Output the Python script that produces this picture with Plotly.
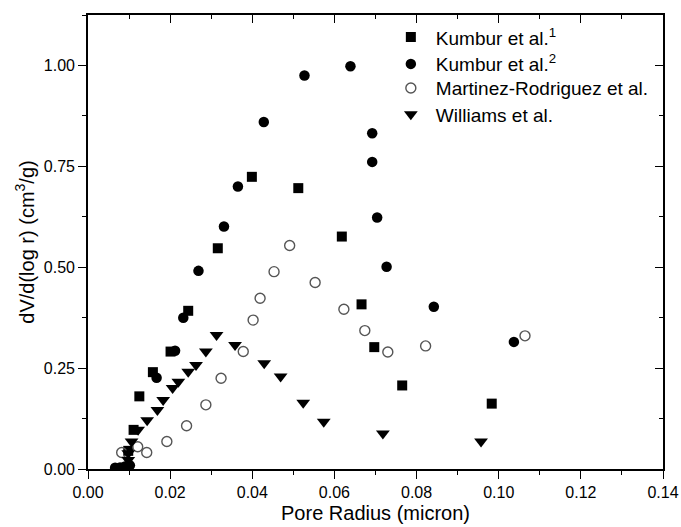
import plotly.graph_objects as go

# Kumbur et al. (1) - filled squares
k1_r = [0.0098, 0.0111, 0.0125, 0.0158, 0.0201, 0.0244, 0.0316, 0.0399, 0.0512,
        0.0618, 0.0666, 0.0697, 0.0765, 0.0983]
k1_v = [0.045, 0.097, 0.180, 0.240, 0.291, 0.392, 0.547, 0.724, 0.696,
        0.576, 0.408, 0.302, 0.207, 0.162]

# Kumbur et al. (2) - filled circles
k2_r = [0.0066, 0.0078, 0.0090, 0.0102, 0.0167, 0.0212, 0.0232, 0.0269, 0.0331,
        0.0365, 0.0428, 0.0527, 0.0639, 0.0692, 0.0692, 0.0704, 0.0727, 0.0842, 0.1037]
k2_v = [0.003, 0.004, 0.006, 0.009, 0.226, 0.293, 0.375, 0.491, 0.601,
        0.700, 0.860, 0.975, 0.998, 0.832, 0.761, 0.623, 0.501, 0.402, 0.315]

# Martinez-Rodriguez et al. - open circles
mr_r = [0.0082, 0.0121, 0.0143, 0.0192, 0.0240, 0.0287, 0.0324, 0.0378, 0.0402,
        0.0419, 0.0453, 0.0491, 0.0553, 0.0623, 0.0674, 0.0730, 0.0822, 0.1064]
mr_v = [0.041, 0.055, 0.041, 0.068, 0.107, 0.159, 0.225, 0.291, 0.369,
        0.423, 0.489, 0.554, 0.462, 0.396, 0.343, 0.290, 0.305, 0.330]

# Williams et al. - filled down triangles
w_r = [0.0098, 0.0098, 0.0106, 0.0122, 0.0144, 0.0169, 0.0183, 0.0206, 0.0220, 0.0244,
       0.0263, 0.0287, 0.0313, 0.0358, 0.0429, 0.0469, 0.0524, 0.0574, 0.0718, 0.0957]
w_v = [0.022, 0.039, 0.068, 0.097, 0.121, 0.146, 0.171, 0.201, 0.216, 0.241,
       0.258, 0.291, 0.332, 0.307, 0.262, 0.229, 0.164, 0.117, 0.088, 0.068]

x_ticks = [0.00, 0.02, 0.04, 0.06, 0.08, 0.10, 0.12, 0.14]
y_ticks = [0.00, 0.25, 0.50, 0.75, 1.00]

FONT = "Liberation Sans, Arial, sans-serif"

fig = go.Figure()
fig.add_trace(go.Scatter(
    x=k1_r, y=k1_v, mode="markers", name="Kumbur et al.<sup>1</sup>", legend="legend",
    marker=dict(symbol="square", size=10, color="black")))
fig.add_trace(go.Scatter(
    x=k2_r, y=k2_v, mode="markers", name="Kumbur et al.<sup>2</sup>", legend="legend2",
    marker=dict(symbol="circle", size=10.5, color="black")))
fig.add_trace(go.Scatter(
    x=mr_r, y=mr_v, mode="markers", name="Martinez-Rodriguez et al.", legend="legend3",
    marker=dict(symbol="circle-open", size=10, color="#555555", line=dict(width=1.4))))
fig.add_trace(go.Scatter(
    x=w_r, y=w_v, mode="markers", name="Williams et al.", legend="legend4",
    marker=dict(symbol="triangle-down", size=12, color="black")))

# empty trace so the mirrored top/right axes get drawn
fig.add_trace(go.Scatter(x=[], y=[], xaxis="x2", yaxis="y2", showlegend=False,
                         hoverinfo="skip"))

axis_common = dict(showline=True, linecolor="black", linewidth=1.6,
                   showgrid=False, zeroline=False, automargin=False)


def legend_box(ypos):
    # one legend per series so the rows sit at fixed heights
    return dict(x=0.518, y=ypos, xanchor="left", yanchor="middle", itemwidth=40,
                bgcolor="rgba(0,0,0,0)", borderwidth=0,
                font=dict(family=FONT, size=19))


fig.update_layout(
    width=681, height=527,
    margin=dict(l=88, r=18, t=15, b=58),
    paper_bgcolor="white", plot_bgcolor="white",
    font=dict(family=FONT, color="black", size=16),
    xaxis=dict(
        range=[0, 0.14], tickvals=x_ticks, tickformat=".2f",
        ticks="outside", ticklen=8, tickwidth=1.3, tickcolor="black",
        minor=dict(ticks="outside", ticklen=4, tickwidth=1.3, dtick=0.01, tickcolor="black"),
        title=dict(text="Pore Radius (micron)", font=dict(size=20), standoff=6),
        tickfont=dict(size=16), **axis_common),
    yaxis=dict(
        range=[0, 1.125], tickvals=y_ticks, tickformat=".2f",
        ticks="outside", ticklen=8, tickwidth=1.3, tickcolor="black",
        minor=dict(ticks="outside", ticklen=4, tickwidth=1.3, dtick=0.125, tickcolor="black"),
        title=dict(text="dV/d(log r) (cm<sup>3</sup>/g)", font=dict(size=20), standoff=4),
        tickfont=dict(size=16), **axis_common),
    xaxis2=dict(
        overlaying="x", side="top", range=[0, 0.14], tickvals=x_ticks,
        showticklabels=False, ticks="inside", ticklen=8, tickwidth=1.3, tickcolor="black",
        minor=dict(ticks="inside", ticklen=4, tickwidth=1.3, dtick=0.01, tickcolor="black"),
        **axis_common),
    yaxis2=dict(
        overlaying="y", side="right", range=[0, 1.125], tickvals=y_ticks,
        showticklabels=False, ticks="inside", ticklen=8, tickwidth=1.3, tickcolor="black",
        minor=dict(ticks="inside", ticklen=4, tickwidth=1.3, dtick=0.125, tickcolor="black"),
        **axis_common),
    legend=legend_box(0.951),
    legend2=legend_box(0.892),
    legend3=legend_box(0.839),
    legend4=legend_box(0.781),
    showlegend=True,
)

fig.write_html("out.html")
